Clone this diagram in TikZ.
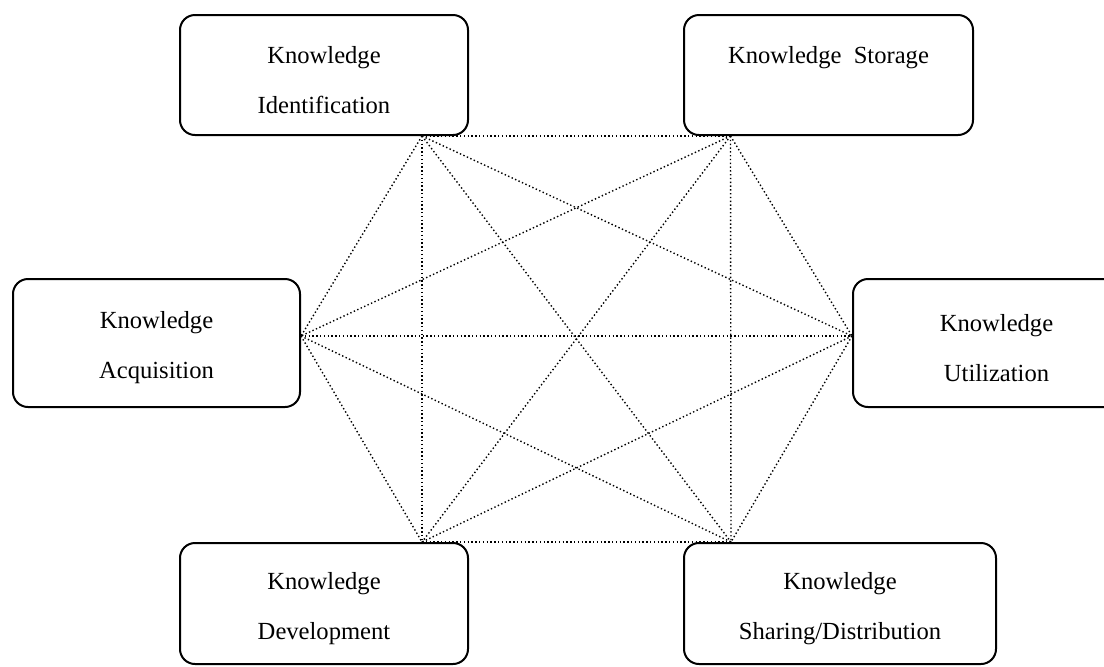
\documentclass[tikz,border=0pt]{standalone}
\usepackage{fontspec}
\setmainfont{Liberation Serif}
\newcommand{\topstrut}{\rule{0pt}{13.5pt}}
\begin{document}
\begin{tikzpicture}[x=0.5pt,y=-0.5pt,
		every node/.style={draw,line width=1pt,rounded corners=7.5pt,fill=white,
			align=center,inner sep=0pt,font=\fontsize{12.3}{25}\selectfont},
		link/.style={line width=0.7pt,dash pattern=on 0.7pt off 1.2pt}]
\useasboundingbox (0,0) rectangle (1104,666);
% the six boxes
\node[minimum width=144pt,minimum height=60pt] (ident) at (324,75) {\topstrut Knowledge\\Identification};
\node[minimum width=144.5pt,minimum height=60pt] (store) at (828.5,75) {\topstrut Knowledge\ \ Storage\\\mbox{}};
\node[minimum width=143.5pt,minimum height=64pt] (acq) at (156.5,343) {\topstrut Knowledge\\Acquisition};
\node[minimum width=143.5pt,minimum height=64pt] (util) at (996.5,343) {\topstrut Knowledge\\Utilization};
\node[minimum width=144pt,minimum height=60.5pt] (dev) at (324,603.5) {\topstrut Knowledge\\Development};
\node[minimum width=156pt,minimum height=60.5pt] (share) at (840,603.5) {\topstrut Knowledge\\Sharing/Distribution};
% where the links meet the boxes
\coordinate (i) at ([xshift=49pt]ident.south);
\coordinate (s) at ([xshift=-49pt]store.south);
\coordinate (a) at ([yshift=3.5pt]acq.east);
\coordinate (u) at ([yshift=3.5pt]util.west);
\coordinate (d) at ([xshift=49pt]dev.north);
\coordinate (h) at ([xshift=-54.5pt]share.north);
\foreach \p/\q in {i/s,i/a,i/u,i/d,i/h,s/a,s/u,s/d,s/h,a/u,a/d,a/h,u/d,u/h,d/h}
	\draw[link] (\p) -- (\q);
\end{tikzpicture}
\end{document}
